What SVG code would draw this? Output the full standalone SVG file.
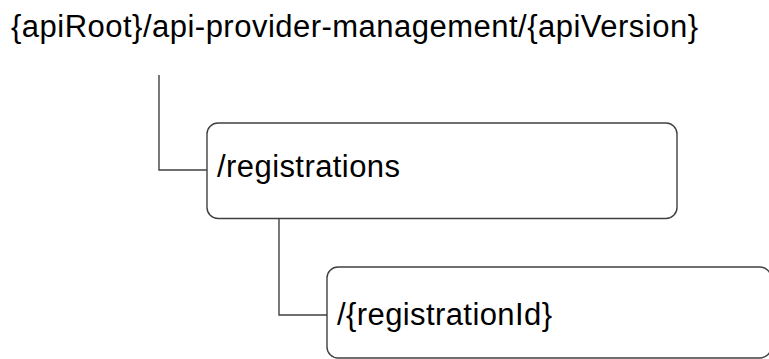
<svg xmlns="http://www.w3.org/2000/svg" width="769" height="359" viewBox="0 0 769 359">
<style>
.t{font-family:"Liberation Sans",Arial,sans-serif;font-size:31px;fill:#000}
.n{fill:#fff;stroke:#404040;stroke-width:1.4}
.c{fill:none;stroke:#404040;stroke-width:1.4}
</style>
<rect width="769" height="359" fill="#fff"/>
<g id="root"><text class="t" x="11" y="37" textLength="687" lengthAdjust="spacing">{apiRoot}/api-provider-management/{apiVersion}</text></g>
<g id="connectors">
<path class="c" d="M159 75V170H207"/>
<path class="c" d="M279 218.5V315H327"/>
</g>
<g id="registrations">
<rect class="n" x="207" y="123" width="470" height="95.5" rx="11"/>
<text class="t" x="217" y="177" textLength="183" lengthAdjust="spacing">/registrations</text>
</g>
<g id="registrationId">
<rect class="n" x="327" y="267" width="444" height="91" rx="11"/>
<text class="t" x="337" y="325" textLength="215" lengthAdjust="spacing">/{registrationId}</text>
</g>
</svg>
